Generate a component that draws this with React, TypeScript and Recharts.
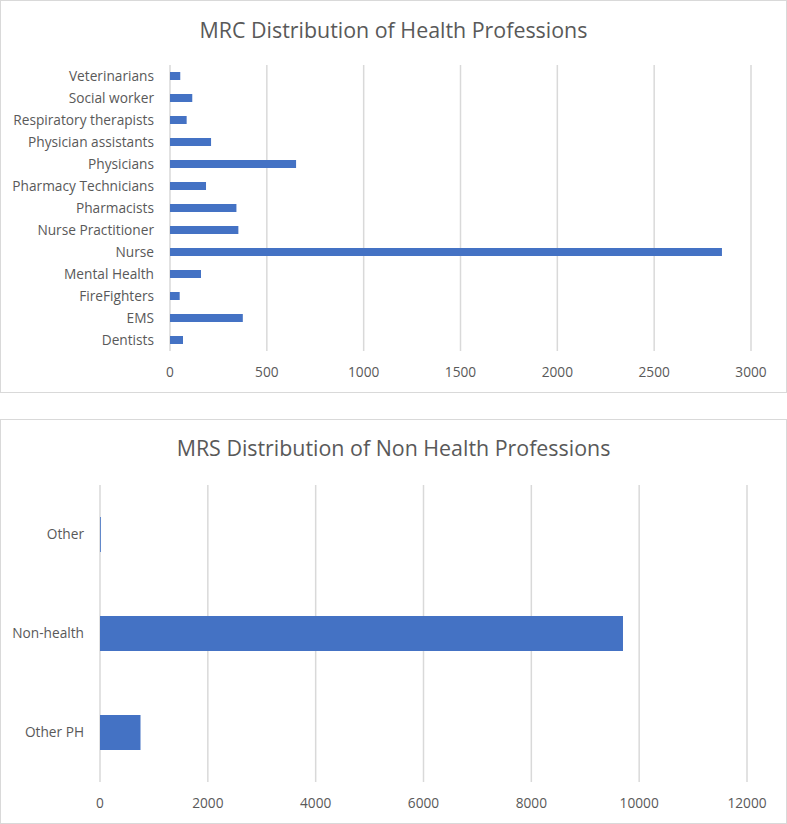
import React from "react";
import { BarChart, Bar, XAxis, YAxis, CartesianGrid } from "recharts";

const healthCategories = [
  "Veterinarians",
  "Social worker",
  "Respiratory therapists",
  "Physician assistants",
  "Physicians",
  "Pharmacy Technicians",
  "Pharmacists",
  "Nurse Practitioner",
  "Nurse",
  "Mental Health",
  "FireFighters",
  "EMS",
  "Dentists",
];
const healthValues = [53, 115, 86, 212, 651, 186, 343, 353, 2850, 160, 50, 376, 67];
const healthTicks = [0, 500, 1000, 1500, 2000, 2500, 3000];

const nonHealthCategories = ["Other", "Non-health", "Other PH"];
const nonHealthValues = [15, 9700, 751];
const nonHealthTicks = [0, 2000, 4000, 6000, 8000, 10000, 12000];

const healthData = healthCategories.map((name, i) => ({ name, value: healthValues[i] }));
const nonHealthData = nonHealthCategories.map((name, i) => ({ name, value: nonHealthValues[i] }));

const FONT = "'Open Sans', sans-serif";
const TEXT = "#595959";
const GRID = "#d9d9d9";
const BAR = "#4472C4";

const tickStyle = { fill: TEXT, fontSize: 13.7, fontFamily: FONT };

function Title({ text, top }: { text: string; top: number }) {
  return (
    <div
      style={{
        position: "absolute",
        left: 0,
        width: 787,
        top,
        textAlign: "center",
        fontFamily: FONT,
        fontSize: 21.4,
        color: TEXT,
        lineHeight: "28px",
      }}
    >
      {text}
    </div>
  );
}

export default function App() {
  return (
    <div style={{ position: "absolute", left: 0, top: 0, width: 787, height: 824, background: "#fff" }}>
      <div
        style={{
          position: "absolute",
          left: 0,
          top: 0,
          width: 787,
          height: 393,
          border: `1px solid ${GRID}`,
          boxSizing: "border-box",
        }}
      />
      <div style={{ position: "absolute", left: 0, top: 0 }}>
        <BarChart
          width={787}
          height={393}
          data={healthData}
          layout="vertical"
          margin={{ top: 65, right: 36, bottom: 0, left: 0 }}
          barCategoryGap={0}
        >
          <CartesianGrid horizontal={false} stroke={GRID} strokeWidth={1.5} />
          <XAxis
            type="number"
            domain={[0, 3000]}
            ticks={healthTicks}
            axisLine={false}
            tickLine={false}
            tickSize={0}
            tickMargin={16}
            height={42}
            tick={tickStyle}
            interval={0}
          />
          <YAxis
            type="category"
            dataKey="name"
            width={170}
            axisLine={false}
            tickLine={false}
            tickSize={0}
            tickMargin={16}
            tick={tickStyle}
            interval={0}
          />
          <Bar dataKey="value" fill={BAR} barSize={8} isAnimationActive={false} />
        </BarChart>
      </div>
      <Title text="MRC Distribution of Health Professions" top={16} />

      <div
        style={{
          position: "absolute",
          left: 0,
          top: 419,
          width: 787,
          height: 405,
          border: `1px solid ${GRID}`,
          boxSizing: "border-box",
        }}
      />
      <div style={{ position: "absolute", left: 0, top: 419 }}>
        <BarChart
          width={787}
          height={405}
          data={nonHealthData}
          layout="vertical"
          margin={{ top: 66, right: 40, bottom: 0, left: 0 }}
          barCategoryGap={0}
        >
          <CartesianGrid horizontal={false} stroke={GRID} strokeWidth={1.5} />
          <XAxis
            type="number"
            domain={[0, 12000]}
            ticks={nonHealthTicks}
            axisLine={false}
            tickLine={false}
            tickSize={0}
            tickMargin={16}
            height={42}
            tick={tickStyle}
            interval={0}
          />
          <YAxis
            type="category"
            dataKey="name"
            width={100}
            axisLine={false}
            tickLine={false}
            tickSize={0}
            tickMargin={16}
            tick={tickStyle}
            interval={0}
          />
          <Bar dataKey="value" fill={BAR} barSize={35} isAnimationActive={false} />
        </BarChart>
      </div>
      <Title text="MRS Distribution of Non Health Professions" top={434} />
    </div>
  );
}
